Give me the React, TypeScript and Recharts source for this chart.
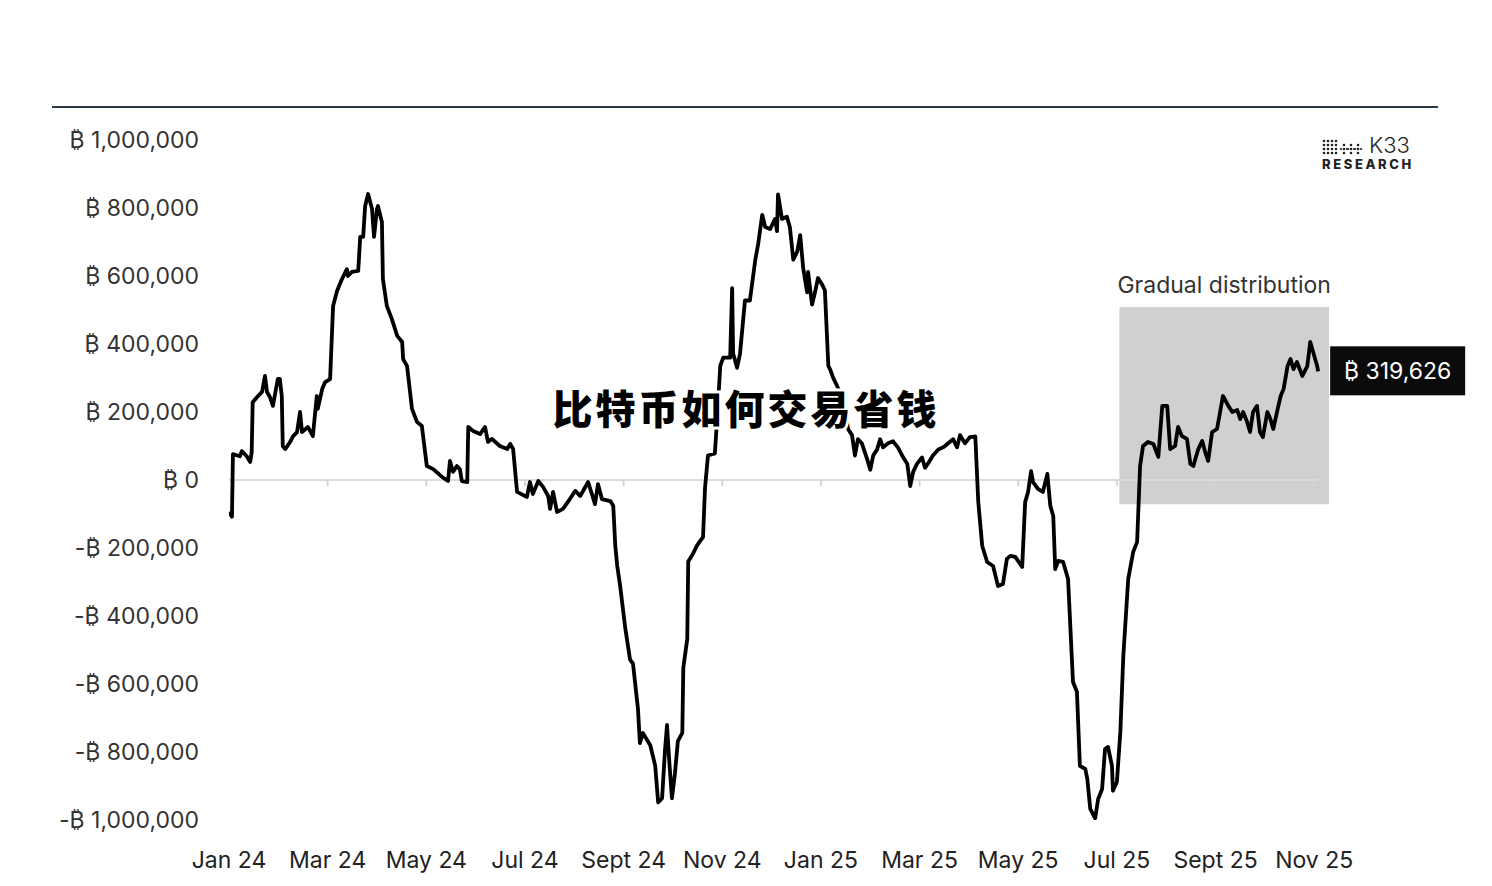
import React from 'react';
import {
  LineChart,
  Line,
  XAxis,
  YAxis,
  ReferenceLine,
  ReferenceArea,
  ReferenceDot,
} from 'recharts';

// months since Jan 2024 (fractional) and net flow in BTC
const months = [
  0.0, 0.06, 0.08, 0.22, 0.26, 0.36, 0.43, 0.46, 0.48, 0.57, 0.67, 0.73, 0.77, 0.83, 0.89, 0.99,
  1.03, 1.07, 1.09, 1.14, 1.24, 1.3, 1.38, 1.44, 1.48, 1.6, 1.7, 1.78, 1.8, 1.89, 1.95, 2.05,
  2.11, 2.19, 2.29, 2.39, 2.41, 2.49, 2.62, 2.66, 2.72, 2.76, 2.82, 2.9, 2.94, 3.0, 3.02, 3.1,
  3.12, 3.2, 3.3, 3.41, 3.51, 3.53, 3.61, 3.71, 3.81, 3.91, 4.01, 4.14, 4.32, 4.44, 4.48, 4.54,
  4.62, 4.68, 4.72, 4.83, 4.85, 4.95, 5.09, 5.19, 5.25, 5.33, 5.49, 5.64, 5.7, 5.76, 5.84, 6.04,
  6.1, 6.16, 6.27, 6.37, 6.47, 6.51, 6.57, 6.65, 6.77, 6.91, 7.02, 7.12, 7.28, 7.42, 7.48, 7.56,
  7.73, 7.79, 7.83, 7.87, 7.93, 8.03, 8.13, 8.19, 8.29, 8.33, 8.39, 8.54, 8.64, 8.7, 8.78, 8.84,
  8.88, 8.92, 8.98, 9.04, 9.1, 9.19, 9.21, 9.29, 9.31, 9.41, 9.49, 9.55, 9.61, 9.65, 9.71, 9.85,
  9.89, 9.96, 10.02, 10.16, 10.2, 10.22, 10.3, 10.36, 10.46, 10.56, 10.67, 10.73, 10.81, 10.87, 10.97, 11.07,
  11.11, 11.13, 11.21, 11.31, 11.37, 11.44, 11.52, 11.58, 11.64, 11.72, 11.74, 11.82, 11.88, 11.94, 12.02, 12.08,
  12.15, 12.19, 12.25, 12.33, 12.43, 12.49, 12.55, 12.63, 12.69, 12.75, 12.83, 12.94, 13.0, 13.06, 13.14, 13.2,
  13.26, 13.36, 13.46, 13.56, 13.67, 13.75, 13.81, 13.87, 13.95, 14.05, 14.11, 14.17, 14.27, 14.38, 14.48, 14.58,
  14.68, 14.76, 14.82, 14.92, 15.02, 15.13, 15.19, 15.27, 15.37, 15.49, 15.59, 15.69, 15.77, 15.84, 15.94, 16.08,
  16.14, 16.2, 16.26, 16.3, 16.4, 16.5, 16.59, 16.65, 16.71, 16.75, 16.81, 16.91, 17.01, 17.11, 17.19, 17.25,
  17.36, 17.4, 17.46, 17.56, 17.62, 17.7, 17.76, 17.82, 17.9, 17.92, 18.0, 18.07, 18.13, 18.23, 18.33, 18.41,
  18.47, 18.53, 18.63, 18.74, 18.84, 18.92, 19.02, 19.08, 19.18, 19.24, 19.32, 19.42, 19.49, 19.55, 19.65, 19.73,
  19.79, 19.85, 19.93, 20.03, 20.15, 20.26, 20.34, 20.44, 20.5, 20.56, 20.64, 20.7, 20.76, 20.84, 20.9, 20.96,
  21.05, 21.11, 21.17, 21.26, 21.32, 21.38, 21.46, 21.52, 21.58, 21.65, 21.76, 21.86, 21.92, 21.98, 22.06, 22.08,
];

const netFlow = [
  -94000, -108000, 76000, 70000, 85000, 70000, 53000, 82000, 229000, 244000, 259000, 306000, 259000, 244000, 218000, 297000,
  297000, 247000, 100000, 91000, 112000, 129000, 141000, 200000, 141000, 156000, 129000, 247000, 209000, 268000, 288000, 297000,
  512000, 556000, 591000, 620000, 600000, 612000, 615000, 715000, 715000, 806000, 841000, 797000, 715000, 797000, 806000, 759000,
  591000, 512000, 474000, 424000, 406000, 356000, 335000, 209000, 171000, 159000, 41000, 32000, 9000, -3000, 56000, 24000,
  41000, 32000, -3000, -6000, 156000, 144000, 135000, 156000, 112000, 121000, 100000, 91000, 106000, 91000, -35000, -50000,
  -6000, -41000, -3000, -21000, -47000, -85000, -35000, -94000, -85000, -56000, -32000, -47000, -6000, -71000, -12000, -56000,
  -62000, -76000, -192000, -252000, -312000, -432000, -528000, -540000, -672000, -774000, -744000, -780000, -840000, -948000, -936000, -792000,
  -720000, -816000, -936000, -864000, -768000, -744000, -552000, -468000, -240000, -216000, -192000, -180000, -168000, -24000, 72000, 78000,
  168000, 336000, 360000, 360000, 564000, 372000, 330000, 372000, 528000, 528000, 648000, 696000, 780000, 744000, 738000, 768000,
  732000, 840000, 768000, 774000, 744000, 648000, 672000, 720000, 624000, 552000, 612000, 516000, 552000, 594000, 576000, 558000,
  336000, 324000, 300000, 276000, 240000, 204000, 150000, 132000, 72000, 120000, 108000, 60000, 30000, 72000, 90000, 120000,
  96000, 108000, 114000, 96000, 66000, 48000, -18000, 24000, 48000, 66000, 36000, 48000, 72000, 90000, 96000, 108000,
  120000, 96000, 132000, 108000, 126000, 128000, -65000, -194000, -241000, -253000, -312000, -306000, -232000, -223000, -226000, -256000,
  -65000, -35000, 26000, -6000, -26000, -35000, 18000, -76000, -106000, -262000, -238000, -241000, -291000, -594000, -623000, -841000,
  -850000, -879000, -967000, -995000, -938000, -909000, -791000, -785000, -841000, -914000, -888000, -741000, -518000, -291000, -212000, -182000,
  41000, 100000, 112000, 106000, 68000, 218000, 218000, 91000, 100000, 156000, 129000, 121000, 47000, 41000, 91000, 115000,
  82000, 56000, 141000, 150000, 247000, 218000, 200000, 206000, 179000, 200000, 171000, 141000, 200000, 218000, 141000, 126000,
  200000, 180000, 150000, 209000, 247000, 268000, 335000, 356000, 326000, 347000, 306000, 335000, 406000, 376000, 335000, 319626,
];

const xTicks = [0, 2, 4, 6, 8, 10, 12, 14, 16, 18, 20, 22];
const xTickLabels = [
  'Jan 24', 'Mar 24', 'May 24', 'Jul 24', 'Sept 24', 'Nov 24',
  'Jan 25', 'Mar 25', 'May 25', 'Jul 25', 'Sept 25', 'Nov 25',
];
const yTicks = [-1000000, -800000, -600000, -400000, -200000, 0, 200000, 400000, 600000, 800000, 1000000];

// "Gradual distribution" highlight window
const distStart = 18.05;
const distEnd = 22.3;
const distLow = -71000;
const distHigh = 509000;

const data = months.map((m, i) => ({ m, flow: netFlow[i] }));
const last = data[data.length - 1];

const FONT = 'Inter, "Noto Sans", sans-serif';
const BTC = '\u20BF';

const fmtBtc = (v: number) => {
  if (v === 0) return `${BTC} 0`;
  const s = Math.abs(v).toLocaleString('en-US');
  return v < 0 ? `-${BTC} ${s}` : `${BTC} ${s}`;
};

const LastValueTag = (props: any) => {
  const { cx, cy } = props;
  if (cx == null || cy == null) return null;
  return (
    <g>
      <rect x={cx + 12} y={cy - 25} width={135} height={49} fill="#0b0b0b" />
      <text
        x={cx + 12 + 67.5}
        y={cy}
        dy="0.35em"
        textAnchor="middle"
        fill="#fff"
        fontSize={23}
        fontFamily={FONT}
      >
        {fmtBtc(last.flow)}
      </text>
    </g>
  );
};

const K33Logo = () => (
  <div style={{ position: 'absolute', left: 1320, top: 134, width: 100 }}>
    <svg width={46} height={20} style={{ position: 'absolute', left: 2, top: 4 }}>
      {[0, 1, 2, 3].map((c) =>
        [0, 1, 2, 3].map((r) => (
          <circle key={`${c}-${r}`} cx={2 + c * 4} cy={3 + r * 4} r={1.3} fill="#222" />
        ))
      )}
      {[0, 1, 2].map((c) => (
        <g key={c}>
          <circle cx={22 + c * 7} cy={7} r={1.3} fill="#222" />
          <circle cx={22 + c * 7} cy={11} r={1.3} fill="#222" />
          <circle cx={19 + c * 7} cy={11} r={1.1} fill="#222" />
          <circle cx={25 + c * 7} cy={11} r={1.1} fill="#222" />
          <circle cx={22 + c * 7} cy={15} r={1.3} fill="#222" />
        </g>
      ))}
    </svg>
    <div
      style={{
        position: 'absolute',
        left: 49,
        top: 1,
        fontFamily: FONT,
        fontSize: 22,
        fontWeight: 300,
        color: '#222',
        lineHeight: '20px',
      }}
    >
      K33
    </div>
    <div
      style={{
        position: 'absolute',
        left: 2,
        top: 24,
        fontFamily: FONT,
        fontSize: 13,
        fontWeight: 800,
        letterSpacing: 2.6,
        color: '#222',
        lineHeight: '13px',
      }}
    >
      RESEARCH
    </div>
  </div>
);

export default function App() {
  return (
    <div
      style={{
        position: 'absolute',
        left: 0,
        top: 0,
        width: 1492,
        height: 886,
        background: '#fff',
        overflow: 'hidden',
      }}
    >
      <div
        style={{
          position: 'absolute',
          left: 52,
          top: 106,
          width: 1386,
          height: 2,
          background: '#2c3a48',
        }}
      />
      <K33Logo />
      <LineChart
        width={1492}
        height={886}
        data={data}
        margin={{ top: 140, right: 163, bottom: 0, left: 0 }}
      >
        <XAxis
          dataKey="m"
          type="number"
          domain={[0, distEnd]}
          ticks={xTicks}
          tickFormatter={(v: number) => xTickLabels[xTicks.indexOf(v)] ?? ''}
          axisLine={false}
          tickLine={false}
          tickSize={0}
          tickMargin={32}
          height={66}
          interval={0}
          allowDataOverflow
          tick={{ fontSize: 23, fill: '#222', fontFamily: FONT }}
        />
        <YAxis
          type="number"
          domain={[-1000000, 1000000]}
          ticks={yTicks}
          tickFormatter={fmtBtc}
          axisLine={false}
          tickLine={false}
          tickSize={0}
          tickMargin={30}
          width={229}
          interval={0}
          allowDataOverflow
          tick={{ fontSize: 23, fill: '#333', fontFamily: FONT }}
        />
        <ReferenceArea
          x1={distStart}
          x2={distEnd}
          y1={distLow}
          y2={distHigh}
          fill="#d0d0d0"
          fillOpacity={1}
          stroke="none"
          ifOverflow="extendDomain"
          label={{
            value: 'Gradual distribution',
            position: 'top',
            offset: 14,
            fill: '#333',
            fontSize: 23,
            fontFamily: FONT,
          }}
        />
        <ReferenceLine
          segment={[
            { x: 0, y: 0 },
            { x: last.m, y: 0 },
          ]}
          stroke="#dcdcdc"
          strokeWidth={2}
        />
        {xTicks.slice(1).map((t) => (
          <ReferenceLine
            key={t}
            segment={[
              { x: t, y: 0 },
              { x: t, y: -18000 },
            ]}
            stroke="#d4d4d4"
            strokeWidth={2}
          />
        ))}
        <Line
          type="linear"
          dataKey="flow"
          stroke="#000"
          strokeWidth={3.8}
          dot={false}
          isAnimationActive={false}
          strokeLinejoin="round"
        />
        <ReferenceDot x={last.m} y={last.flow} r={0} shape={LastValueTag} />
      </LineChart>
      <div
        style={{
          position: 'absolute',
          left: 0,
          width: 1492,
          top: 382,
          textAlign: 'center',
          fontFamily: '"Noto Sans CJK SC", sans-serif',
          fontWeight: 900,
          fontSize: 40,
          letterSpacing: 3,
          color: '#000',
          WebkitTextStroke: '6px #fff',
          paintOrder: 'stroke fill',
          lineHeight: '50px',
        }}
      >
        比特币如何交易省钱
      </div>
    </div>
  );
}
